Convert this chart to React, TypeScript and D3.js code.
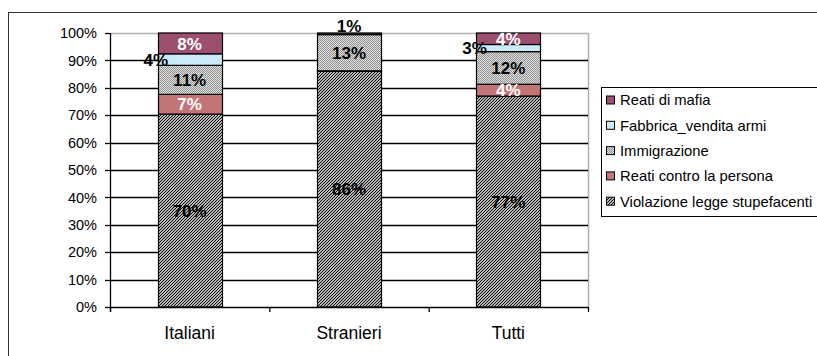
import React from "react";
import * as d3 from "d3";

const categories = ["Italiani", "Stranieri", "Tutti"];
const seriesNames = [
  "Violazione legge stupefacenti",
  "Reati contro la persona",
  "Immigrazione",
  "Fabbrica_vendita armi",
  "Reati di mafia",
];
const violazione = [70.4, 86.0, 77.0];
const reatiPersona = [7.2, 0.2, 4.3];
const immigrazione = [10.6, 13.2, 11.9];
const fabbrica = [4.2, 0.1, 2.6];
const mafia = [7.6, 0.5, 4.2];
const yTicks = [0, 10, 20, 30, 40, 50, 60, 70, 80, 90, 100];

const fills = ["url(#hatch)", "#C27476", "url(#dots)", "#CBEBF9", "#9C4F6F"];
const labelColors = ["#000", "#fff", "#000", "#000", "#fff"];
const font = "Arial, 'Liberation Sans', sans-serif";

export default function App() {
  const W = 817, H = 356;
  const x0 = 110, x1 = 588, yTop = 33, yBot = 307;
  const x = d3.scaleBand().domain(categories).range([x0, x1]).paddingInner(0.6).paddingOuter(0.3);
  const y = d3.scaleLinear().domain([0, 100]).range([yBot, yTop]);
  const seriesVals = [violazione, reatiPersona, immigrazione, fabbrica, mafia];
  const rows = categories.map((c, i) => {
    const r: any = { cat: c };
    seriesNames.forEach((s, j) => (r[s] = seriesVals[j][i]));
    return r;
  });
  const stacked = d3.stack().keys(seriesNames)(rows as any);
  const step = (x1 - x0) / categories.length;
  const bw = x.bandwidth();

  return (
    <svg width={W} height={H} style={{ position: "absolute", left: 0, top: 0, background: "#fff" }}>
      <defs>
        <pattern id="hatch" patternUnits="userSpaceOnUse" width="3" height="3">
          <rect width="3" height="3" fill="#fff" />
          <path d="M0,3 L3,0 M-1,1 L1,-1 M2,4 L4,2" stroke="#000" strokeWidth="1.1" />
        </pattern>
        <pattern id="dots" patternUnits="userSpaceOnUse" width="2" height="2">
          <rect width="2" height="2" fill="#e0e0e0" />
          <rect width="1" height="1" fill="#939393" />
          <rect x="1" y="1" width="1" height="1" fill="#939393" />
        </pattern>
      </defs>
      <rect x={8.5} y={12.5} width={900} height={400} fill="#fff" stroke="#333" strokeWidth={1} />
      {/* plot border */}
      <line x1={x0} x2={x1} y1={yTop + 0.5} y2={yTop + 0.5} stroke="#b0b0b0" strokeWidth={1.5} />
      <line x1={x1 + 0.5} x2={x1 + 0.5} y1={yTop} y2={yBot} stroke="#b0b0b0" strokeWidth={1.5} />
      {yTicks.filter((t) => t > 0 && t < 100).map((t) => (
        <line key={t} x1={x0} x2={x1} y1={Math.round(y(t)) + 0.5} y2={Math.round(y(t)) + 0.5} stroke="#000" strokeWidth={1.3} />
      ))}
      {yTicks.map((t) => (
        <g key={"yt" + t}>
          <line x1={x0 - 5} x2={x0} y1={Math.round(y(t)) + 0.5} y2={Math.round(y(t)) + 0.5} stroke="#000" strokeWidth={1.3} />
          <text x={97} y={y(t)} dy="0.36em" textAnchor="end" fontFamily={font} fontSize={14.5} fill="#000">
            {t}%
          </text>
        </g>
      ))}
      {/* bars */}
      {stacked.map((s, j) =>
        s.map((d: any, i) => (
          <rect
            key={j + "-" + i}
            x={Math.round(x(categories[i])!) + 0.5}
            y={y(d[1])}
            width={Math.round(bw)}
            height={y(d[0]) - y(d[1])}
            fill={fills[j]}
            stroke="#000"
            strokeWidth={1.2}
          />
        ))
      )}
      {/* axes */}
      <line x1={x0 + 0.5} x2={x0 + 0.5} y1={yTop} y2={yBot + 5} stroke="#000" strokeWidth={1.3} />
      <line x1={x0} x2={x1} y1={yBot + 0.5} y2={yBot + 0.5} stroke="#000" strokeWidth={1.3} />
      {d3.range(categories.length + 1).map((k) => (
        <line key={"xt" + k} x1={x0 + k * step + 0.5} x2={x0 + k * step + 0.5} y1={yBot} y2={yBot + 5} stroke="#000" strokeWidth={1.3} />
      ))}
      {categories.map((c) => (
        <text key={c} x={x(c)! + bw / 2} y={339} textAnchor="middle" fontFamily={font} fontSize={17.5} fill="#000">
          {c}
        </text>
      ))}
      {/* labels */}
      {stacked.map((s, j) =>
        s.map((d: any, i) => {
          const v = d[1] - d[0];
          const lab = Math.round(v);
          if (lab === 0) return null;
          let cx = x(categories[i])! + bw / 2;
          let cy = (y(d[0]) + y(d[1])) / 2;
          let color = labelColors[j];
          if (v < 1.5) {
            cy = y(d[1]) - 7;
            color = "#000";
          } else if (v < 5 && j === 3) {
            cx = x(categories[i])! - 2;
          }
          return (
            <text key={"l" + j + i} x={cx} y={cy} dy="0.36em" textAnchor="middle" fontFamily={font} fontWeight="bold" fontSize={17} fill={color}>
              {lab}%
            </text>
          );
        })
      )}
      {/* legend */}
      <rect x={601.5} y={87.5} width={300} height={129} fill="#fff" stroke="#000" strokeWidth={1} />
      {seriesNames
        .map((n, j) => ({ n, j }))
        .reverse()
        .map(({ n, j }, k) => (
          <g key={n}>
            <rect x={606.5} y={100 + k * 25.3 - 4} width={8} height={8} fill={fills[j]} stroke="#000" strokeWidth={1} />
            <text x={620} y={100 + k * 25.3} dy="0.36em" fontFamily={font} fontSize={14.8} fill="#000">
              {n}
            </text>
          </g>
        ))}
    </svg>
  );
}
